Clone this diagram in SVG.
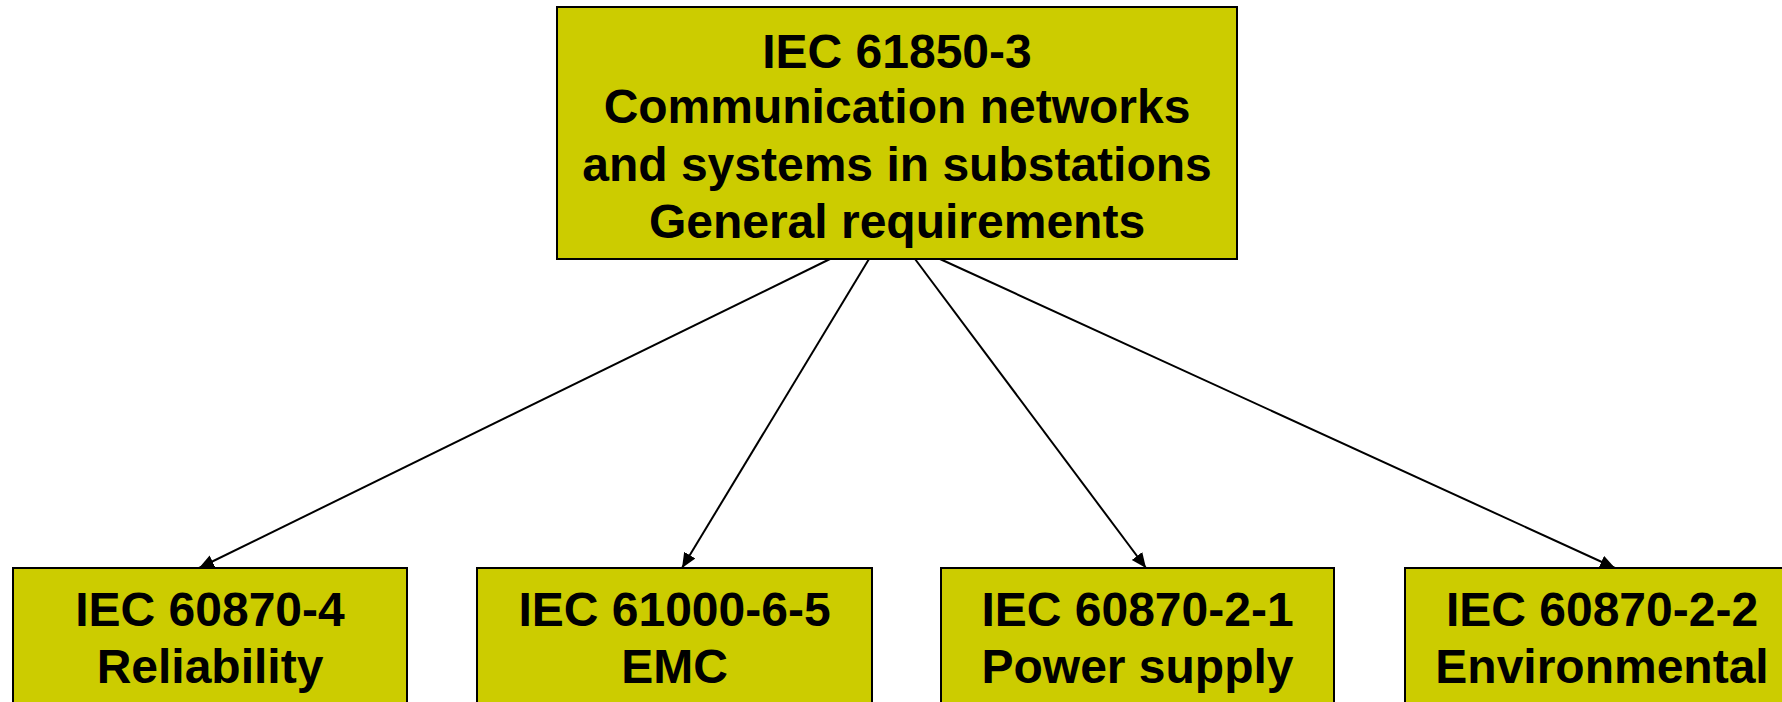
<svg xmlns="http://www.w3.org/2000/svg" width="1782" height="702" viewBox="0 0 1782 702">
<style>
.box{fill:#cccc00;stroke:#000;stroke-width:2}
.t{font-family:"Liberation Sans",Arial,sans-serif;font-weight:bold;font-size:48px;fill:#000;text-anchor:middle}
.c{stroke:#000;stroke-width:2;fill:none;marker-end:url(#ah)}
</style>
<defs>
<marker id="ah" markerUnits="userSpaceOnUse" markerWidth="16" markerHeight="14" refX="15" refY="6.5" orient="auto">
<path d="M0,0 L15,6.5 L0,13 z" fill="#000"/>
</marker>
</defs>
<rect width="1782" height="702" fill="#fff"/>
<g id="connectors">
<line class="c" x1="830" y1="259" x2="199" y2="568"/>
<line class="c" x1="869" y1="259" x2="682" y2="568"/>
<line class="c" x1="915" y1="259" x2="1146" y2="568"/>
<line class="c" x1="940" y1="259" x2="1615" y2="568"/>
</g>
<g id="top">
<rect class="box" x="557" y="7" width="680" height="252"/>
<text class="t" x="897" y="68">IEC 61850-3</text>
<text class="t" x="897" y="123">Communication networks</text>
<text class="t" x="897" y="180.5">and systems in substations</text>
<text class="t" x="897" y="238">General requirements</text>
</g>
<g id="reliability">
<rect class="box" x="13" y="568" width="394" height="150"/>
<text class="t" x="210" y="626">IEC 60870-4</text>
<text class="t" x="210" y="683">Reliability</text>
</g>
<g id="emc">
<rect class="box" x="477" y="568" width="395" height="150"/>
<text class="t" x="674.5" y="626">IEC 61000-6-5</text>
<text class="t" x="674.5" y="683">EMC</text>
</g>
<g id="power">
<rect class="box" x="941" y="568" width="393" height="150"/>
<text class="t" x="1137.5" y="626">IEC 60870-2-1</text>
<text class="t" x="1137.5" y="683">Power supply</text>
</g>
<g id="environmental">
<rect class="box" x="1405" y="568" width="394" height="150"/>
<text class="t" x="1602" y="626">IEC 60870-2-2</text>
<text class="t" x="1602" y="683">Environmental</text>
</g>
</svg>
